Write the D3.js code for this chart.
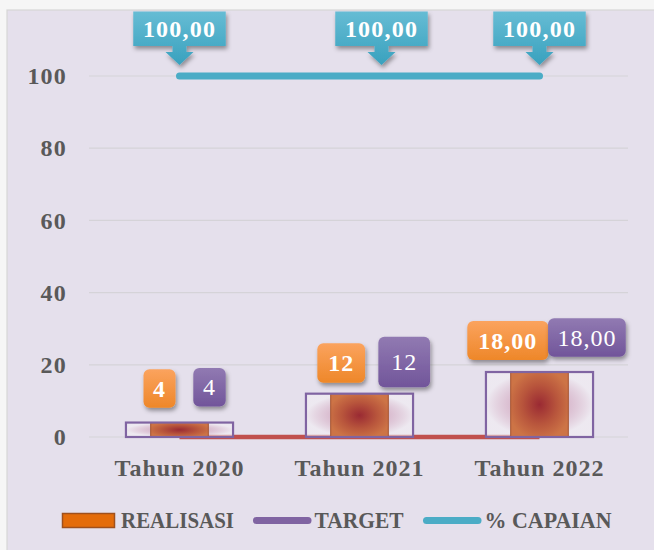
<!DOCTYPE html>
<html>
<head>
<meta charset="utf-8">
<script src="https://cdn.jsdelivr.net/npm/d3@7"></script>
<style>
  html, body { margin: 0; padding: 0; background: #f6f6f6; }
  svg { display: block; }
  text { font-family: "Liberation Serif", "DejaVu Serif", serif; }
</style>
</head>
<body>
<svg id="chart" width="654" height="550"></svg>
<script>
// ---- data ----
const kategori = ["Tahun 2020", "Tahun 2021", "Tahun 2022"];
const realisasi = [4, 12, 18];
const target = [4, 12, 18];
const capaian = [100, 100, 100];
const garisDasar = [0, 0, 0];
const desimalLabel = [0, 0, 2];      // decimals printed on the value tags per year
const desimalCapaian = 2;
const yTicks = [0, 20, 40, 60, 80, 100];
const legendNama = ["REALISASI", "TARGET", "% CAPAIAN"];

// ---- layout of the value tags: [dx from year centre, dy from value, width, height] ----
const tagRealisasi = [[-20, -34, 32, 38.5], [-18.3, -30.7, 47.7, 39.4], [-31.7, -31.5, 81, 39]];
const tagTarget = [[30, -35.3, 32.4, 38.7], [44.7, -31.7, 51.7, 50.6], [47.4, -34.5, 77.7, 38.4]];
const tagCapaianDx = [0, 22, 0];

const W = 654, H = 550;
const svg = d3.select("#chart");
const defs = svg.append("defs");

const id = d3.formatLocale({ decimal: ",", thousands: ".", grouping: [3], currency: ["Rp", ""] });
const fmt = n => id.format(`.${n}f`);

// gradients
function linGrad(name, top, bottom) {
  const g = defs.append("linearGradient").attr("id", name).attr("x1", 0).attr("y1", 0).attr("x2", 0).attr("y2", 1);
  g.append("stop").attr("offset", "0%").attr("stop-color", top);
  g.append("stop").attr("offset", "100%").attr("stop-color", bottom);
}
linGrad("gTeal", "#66bcd4", "#39a1be");
linGrad("gOrange", "#fba35e", "#ee8729");
linGrad("gPurple", "#917ab2", "#71559a");

const rBar = defs.append("radialGradient").attr("id", "gBar").attr("cx", "50%").attr("cy", "50%").attr("r", "55%");
rBar.append("stop").attr("offset", "0%").attr("stop-color", "#9a2a33");
rBar.append("stop").attr("offset", "55%").attr("stop-color", "#b8553c");
rBar.append("stop").attr("offset", "100%").attr("stop-color", "#cd7446");

const rBox = defs.append("radialGradient").attr("id", "gBox").attr("cx", "50%").attr("cy", "50%").attr("r", "50%");
rBox.append("stop").attr("offset", "0%").attr("stop-color", "#a0304a").attr("stop-opacity", 0.75);
rBox.append("stop").attr("offset", "50%").attr("stop-color", "#c98aa8").attr("stop-opacity", 0.45);
rBox.append("stop").attr("offset", "100%").attr("stop-color", "#f4f0f4").attr("stop-opacity", 0.55);

const sh = defs.append("filter").attr("id", "shadow").attr("x", "-30%").attr("y", "-30%").attr("width", "160%").attr("height", "180%");
sh.append("feDropShadow").attr("dx", 1.5).attr("dy", 3).attr("stdDeviation", 2.2)
  .attr("flood-color", "#000").attr("flood-opacity", 0.38);

// background frame
svg.append("rect").attr("width", W).attr("height", H).attr("fill", "#f6f6f6");
svg.append("rect").attr("x", 7).attr("y", 10).attr("width", W).attr("height", H)
  .attr("fill", "#e5e0ec").attr("stroke", "#d6d6d6").attr("stroke-width", 1.2);

// scales
const x = d3.scaleBand().domain(kategori).range([89.5, 629.5]);
const y = d3.scaleLinear().domain([0, 100]).range([437, 76]);
const cx = k => x(k) + x.bandwidth() / 2;

// gridlines
svg.append("g").selectAll("line").data(yTicks).join("line")
  .attr("x1", 89).attr("x2", 628)
  .attr("y1", d => y(d)).attr("y2", d => y(d))
  .attr("stroke", "#d5d3d8").attr("stroke-width", 1.2);

// y axis
const gy = svg.append("g").attr("transform", "translate(89,0)")
  .call(d3.axisLeft(y).tickValues(yTicks).tickSize(0).tickPadding(22).tickFormat(d3.format("d")));
gy.select(".domain").remove();
gy.selectAll("text").attr("fill", "#595959").style("font-size", "24px").style("font-weight", "bold")
  .style("letter-spacing", "1.2px").style("font-family", "'Liberation Serif', serif");

// x axis
const gx = svg.append("g").attr("transform", "translate(0,437)")
  .call(d3.axisBottom(x).tickSize(0).tickPadding(22));
gx.select(".domain").remove();
gx.selectAll("text").attr("fill", "#595959").style("font-size", "24px").style("font-weight", "bold")
  .style("letter-spacing", "1px").style("font-family", "'Liberation Serif', serif");

// baseline series
const lineGen = d3.line().x(d => cx(d[0])).y(d => y(d[1]));
svg.append("path").datum(kategori.map((k, i) => [k, garisDasar[i]]))
  .attr("d", lineGen).attr("fill", "none").attr("stroke", "#c0504d").attr("stroke-width", 4.5);

// target boxes (fill)
const boxW = x.bandwidth() * 0.595;
const barW = x.bandwidth() * 0.32;
svg.append("g").selectAll("rect").data(kategori).join("rect")
  .attr("x", k => cx(k) - boxW / 2).attr("width", boxW)
  .attr("y", (k, i) => y(target[i])).attr("height", (k, i) => y(0) - y(target[i]))
  .attr("fill", "url(#gBox)");

// realisasi bars
svg.append("g").selectAll("rect").data(kategori).join("rect")
  .attr("x", k => cx(k) - barW / 2).attr("width", barW)
  .attr("y", (k, i) => y(realisasi[i])).attr("height", (k, i) => y(0) - y(realisasi[i]))
  .attr("fill", "url(#gBar)").attr("stroke", "#a4532f").attr("stroke-width", 1);

// target box outlines
svg.append("g").selectAll("rect").data(kategori).join("rect")
  .attr("x", k => cx(k) - boxW / 2).attr("width", boxW)
  .attr("y", (k, i) => y(target[i])).attr("height", (k, i) => y(0) - y(target[i]))
  .attr("fill", "none").attr("stroke", "#8064a2").attr("stroke-width", 2.2);

// % capaian line
svg.append("path").datum(kategori.map((k, i) => [k, capaian[i]]))
  .attr("d", lineGen).attr("fill", "none").attr("stroke", "#4bacc6")
  .attr("stroke-width", 7).attr("stroke-linecap", "round");

// value tags for realisasi and target
function tags(values, layout, fill, weight) {
  const g = svg.append("g");
  kategori.forEach((k, i) => {
    const [dx, dy, w, h] = layout[i];
    const mx = cx(k) + dx, my = y(values[i]) + dy;
    g.append("rect").attr("x", mx - w / 2).attr("y", my - h / 2).attr("width", w).attr("height", h)
      .attr("rx", 6).attr("fill", fill).attr("filter", "url(#shadow)");
    g.append("text").attr("x", mx).attr("y", my).attr("dy", "0.34em")
      .attr("text-anchor", "middle").attr("fill", "#fff")
      .style("font-size", "24px").style("font-weight", weight).style("letter-spacing", "1px")
      .text(fmt(desimalLabel[i])(values[i]));
  });
}
tags(realisasi, tagRealisasi, "url(#gOrange)", "bold");
tags(target, tagTarget, "url(#gPurple)", "normal");

// % capaian callouts
const cw = 92.5, ch = 34.5;
const gc = svg.append("g");
kategori.forEach((k, i) => {
  const tx = cx(k) + tagCapaianDx[i];
  const tipY = y(capaian[i]) - 11;
  const bottom = tipY - 19, top = bottom - ch;
  const p = d3.path();
  p.moveTo(tx - cw / 2, top);
  p.lineTo(tx + cw / 2, top);
  p.lineTo(tx + cw / 2, bottom);
  p.lineTo(tx + 7, bottom);
  p.lineTo(tx + 7, bottom + 6);
  p.lineTo(tx + 14, bottom + 6);
  p.lineTo(tx, tipY);
  p.lineTo(tx - 14, bottom + 6);
  p.lineTo(tx - 7, bottom + 6);
  p.lineTo(tx - 7, bottom);
  p.lineTo(tx - cw / 2, bottom);
  p.closePath();
  gc.append("path").attr("d", p.toString()).attr("fill", "url(#gTeal)").attr("filter", "url(#shadow)");
  gc.append("text").attr("x", tx).attr("y", (top + bottom) / 2).attr("dy", "0.34em")
    .attr("text-anchor", "middle").attr("fill", "#fff")
    .style("font-size", "24px").style("font-weight", "bold").style("letter-spacing", "1.2px")
    .text(fmt(desimalCapaian)(capaian[i]));
});

// legend
const legX = [62, 253, 423];
const legLen = [113, 89, 127];
const legY = 520.5;
const gl = svg.append("g");
legendNama.forEach((nama, i) => {
  const lx = legX[i];
  if (i === 0) {
    gl.append("rect").attr("x", lx + 0.5).attr("y", legY - 7).attr("width", 52).attr("height", 14)
      .attr("fill", "#e46c0a").attr("stroke", "#a0501c").attr("stroke-width", 1.5);
  } else {
    gl.append("line").attr("x1", lx + 3.5).attr("x2", lx + 55).attr("y1", legY).attr("y2", legY)
      .attr("stroke", i === 1 ? "#8064a2" : "#4bacc6").attr("stroke-width", 7).attr("stroke-linecap", "round");
  }
  gl.append("text").attr("x", lx + (i === 0 ? 59 : 61.5)).attr("y", 528.3)
    .attr("fill", "#595959").style("font-size", "24px").style("font-weight", "bold")
    .attr("textLength", legLen[i]).attr("lengthAdjust", "spacingAndGlyphs")
    .text(nama);
});
</script>
</body>
</html>
